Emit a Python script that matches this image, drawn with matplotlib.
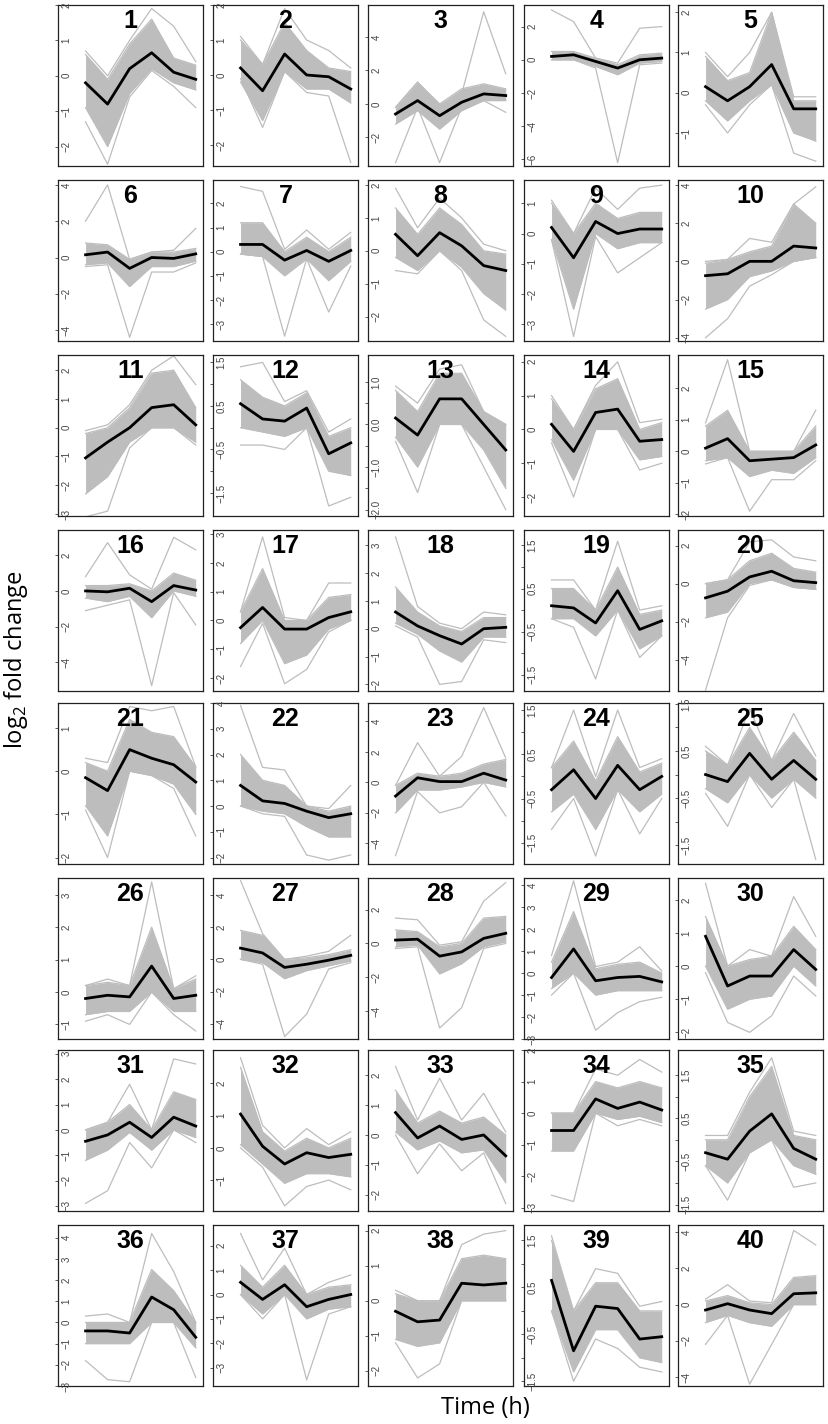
import numpy as np
import matplotlib
matplotlib.use("Agg")
import matplotlib.pyplot as plt
import matplotlib.transforms as mtransforms

plt.rcParams['mathtext.fontset'] = 'custom'
plt.rcParams['mathtext.rm'] = 'Open Sans'

# six sampling points per profile
time_idx = [0, 1, 2, 3, 4, 5]

# cluster mean profiles (black line)
means = [
    [-0.2, -0.8, 0.2, 0.65, 0.1, -0.1],
    [0.2, -0.45, 0.6, 0.0, -0.05, -0.4],
    [-0.6, 0.2, -0.7, 0.1, 0.6, 0.5],
    [0.2, 0.3, -0.1, -0.5, 0.0, 0.1],
    [0.15, -0.2, 0.15, 0.7, -0.4, -0.4],
    [0.15, 0.3, -0.6, 0.0, -0.05, 0.2],
    [0.3, 0.3, -0.35, 0.05, -0.4, 0.05],
    [0.5, -0.15, 0.55, 0.15, -0.45, -0.6],
    [0.2, -0.8, 0.4, 0.0, 0.15, 0.15],
    [-0.75, -0.65, 0.0, 0.0, 0.8, 0.7],
    [-1.05, -0.5, 0.0, 0.7, 0.8, 0.1],
    [0.55, 0.2, 0.15, 0.45, -0.6, -0.35],
    [0.15, -0.25, 0.6, 0.6, 0.0, -0.6],
    [0.15, -0.65, 0.5, 0.6, -0.35, -0.3],
    [0.1, 0.4, -0.3, -0.25, -0.2, 0.2],
    [0.0, -0.05, 0.15, -0.6, 0.3, 0.05],
    [-0.25, 0.45, -0.3, -0.3, 0.1, 0.3],
    [0.6, 0.1, -0.25, -0.55, 0.0, 0.05],
    [0.1, 0.05, -0.3, 0.45, -0.45, -0.25],
    [-0.75, -0.4, 0.35, 0.65, 0.15, 0.05],
    [-0.15, -0.45, 0.5, 0.3, 0.15, -0.25],
    [0.8, 0.2, 0.1, -0.2, -0.45, -0.3],
    [-0.9, 0.3, 0.05, 0.05, 0.6, 0.15],
    [-0.3, 0.15, -0.5, 0.25, -0.3, 0.0],
    [0.0, -0.15, 0.45, -0.1, 0.3, -0.1],
    [-0.2, -0.1, -0.15, 0.8, -0.2, -0.1],
    [0.7, 0.4, -0.5, -0.3, -0.05, 0.25],
    [0.2, 0.25, -0.75, -0.5, 0.3, 0.6],
    [-0.2, 1.1, -0.35, -0.2, -0.15, -0.4],
    [0.9, -0.6, -0.3, -0.3, 0.5, -0.1],
    [-0.45, -0.2, 0.3, -0.3, 0.5, 0.15],
    [1.05, 0.05, -0.5, -0.15, -0.3, -0.2],
    [0.75, -0.1, 0.3, -0.15, 0.0, -0.7],
    [-0.55, -0.55, 0.45, 0.15, 0.35, 0.1],
    [-0.3, -0.45, 0.2, 0.6, -0.2, -0.45],
    [-0.4, -0.4, -0.5, 1.2, 0.6, -0.7],
    [0.5, -0.2, 0.4, -0.5, -0.2, 0.0],
    [-0.3, -0.6, -0.55, 0.5, 0.45, 0.5],
    [0.65, -0.85, 0.1, 0.05, -0.6, -0.55],
    [-0.3, 0.05, -0.3, -0.5, 0.6, 0.65],
]

# dense part of the member profiles (upper / lower edge)
band_hi = [
    [0.6, -0.1, 0.9, 1.6, 0.5, 0.3],
    [1.0, 0.3, 1.5, 0.7, 0.2, 0.1],
    [-0.2, 1.3, 0.0, 0.9, 1.2, 0.9],
    [0.5, 0.5, 0.1, -0.3, 0.3, 0.4],
    [0.9, 0.3, 0.5, 2.0, -0.2, -0.2],
    [0.8, 0.7, -0.1, 0.3, 0.3, 0.5],
    [1.2, 1.2, 0.0, 0.6, 0.0, 0.6],
    [1.3, 0.5, 1.3, 0.8, 0.0, -0.1],
    [1.0, 0.0, 1.0, 0.5, 0.7, 0.7],
    [-0.1, 0.1, 0.5, 0.8, 3.0, 2.0],
    [-0.2, 0.0, 0.7, 1.9, 2.0, 0.7],
    [1.1, 0.7, 0.5, 0.8, -0.2, 0.0],
    [0.8, 0.3, 1.2, 1.2, 0.3, 0.0],
    [0.9, 0.0, 1.2, 1.5, 0.0, 0.2],
    [0.8, 1.3, 0.0, 0.0, 0.0, 0.8],
    [0.3, 0.3, 0.4, 0.0, 1.0, 0.6],
    [0.3, 1.8, 0.0, 0.0, 0.8, 0.9],
    [1.5, 0.6, 0.1, -0.1, 0.4, 0.4],
    [0.5, 0.5, 0.0, 1.0, -0.1, 0.0],
    [0.0, 0.2, 1.2, 1.6, 0.8, 0.6],
    [0.2, 0.0, 1.2, 0.9, 0.8, 0.1],
    [2.0, 1.0, 0.8, 0.0, -0.2, 0.0],
    [-0.2, 0.6, 0.4, 0.6, 1.2, 1.5],
    [0.2, 0.8, -0.1, 0.9, 0.1, 0.3],
    [0.5, 0.2, 1.0, 0.3, 0.9, 0.3],
    [0.2, 0.3, 0.2, 2.0, 0.1, 0.4],
    [1.8, 1.5, 0.0, 0.1, 0.3, 0.6],
    [0.8, 0.7, -0.2, 0.0, 1.5, 1.6],
    [0.5, 2.8, 0.2, 0.4, 0.5, 0.0],
    [1.5, 0.0, 0.2, 0.3, 1.2, 0.5],
    [0.0, 0.3, 1.0, 0.0, 1.5, 1.2],
    [2.5, 0.5, -0.1, 0.3, 0.0, 0.3],
    [1.5, 0.4, 0.8, 0.4, 0.6, 0.0],
    [0.0, 0.0, 1.0, 0.8, 1.0, 0.8],
    [0.0, 0.0, 1.0, 1.7, 0.1, 0.0],
    [0.0, 0.0, 0.0, 2.5, 1.5, 0.0],
    [1.2, 0.3, 1.2, 0.0, 0.3, 0.4],
    [0.2, 0.0, 0.0, 1.2, 1.3, 1.2],
    [1.5, 0.0, 0.6, 0.6, 0.0, 0.0],
    [0.2, 0.5, 0.1, 0.0, 1.5, 1.6],
]

band_lo = [
    [-0.9, -2.0, -0.5, 0.2, -0.2, -0.4],
    [-0.2, -1.3, 0.1, -0.4, -0.4, -0.8],
    [-1.2, -0.4, -1.5, -0.4, 0.2, 0.2],
    [0.0, 0.0, -0.4, -0.9, -0.2, -0.1],
    [-0.2, -0.7, -0.2, 0.2, -1.0, -1.2],
    [-0.4, -0.3, -1.6, -0.5, -0.5, -0.2],
    [-0.1, -0.2, -1.0, -0.3, -1.2, -0.4],
    [-0.2, -0.6, 0.0, -0.5, -1.3, -1.8],
    [-0.2, -2.5, 0.0, -0.5, -0.3, -0.3],
    [-2.5, -2.0, -0.8, -0.5, 0.0, 0.2],
    [-2.3, -1.7, -0.5, 0.0, 0.0, -0.5],
    [0.0, -0.1, -0.2, 0.0, -1.0, -1.1],
    [-0.3, -1.0, 0.0, 0.0, -0.6, -1.5],
    [-0.3, -1.5, 0.0, 0.0, -0.9, -0.8],
    [-0.3, -0.2, -0.8, -0.6, -0.7, -0.2],
    [-0.4, -0.6, -0.3, -1.5, 0.0, -0.3],
    [-0.8, 0.0, -1.5, -1.2, -0.3, 0.0],
    [0.2, -0.2, -0.8, -1.2, -0.3, -0.3],
    [-0.2, -0.2, -0.6, 0.0, -0.9, -0.6],
    [-1.8, -1.5, 0.0, 0.2, -0.2, -0.3],
    [-0.8, -1.5, 0.0, -0.1, -0.3, -1.0],
    [0.0, -0.2, -0.3, -0.8, -1.2, -1.2],
    [-2.0, -0.5, -0.5, -0.3, 0.0, -0.3],
    [-0.8, -0.4, -1.2, -0.3, -0.8, -0.4],
    [-0.3, -0.6, 0.0, -0.5, -0.1, -0.5],
    [-0.7, -0.6, -0.6, 0.0, -0.6, -0.6],
    [0.0, -0.2, -1.2, -0.7, -0.4, -0.1],
    [-0.2, -0.1, -1.8, -1.2, -0.2, 0.1],
    [-0.7, 0.0, -1.0, -0.8, -0.8, -0.8],
    [0.0, -1.3, -1.0, -0.9, 0.0, -0.6],
    [-1.2, -0.8, -0.1, -0.8, 0.0, -0.3],
    [0.1, -0.5, -1.1, -0.8, -0.8, -0.9],
    [0.1, -0.5, -0.2, -0.6, -0.5, -1.6],
    [-1.2, -1.2, 0.0, -0.2, -0.1, -0.3],
    [-0.6, -1.0, -0.3, 0.0, -0.6, -0.8],
    [-1.0, -1.0, -1.0, 0.0, 0.0, -1.2],
    [0.0, -0.8, 0.0, -1.0, -0.6, -0.5],
    [-1.1, -1.3, -1.2, 0.0, 0.0, 0.0],
    [0.0, -1.3, -0.4, -0.4, -1.0, -1.1],
    [-1.0, -0.6, -1.0, -1.2, 0.0, 0.0],
]

# most extreme member profiles
upper = [
    [0.7, 0.0, 1.0, 1.9, 1.4, 0.4],
    [1.1, 0.3, 1.9, 1.0, 0.7, 0.2],
    [-0.2, 1.3, -0.1, 0.6, 5.5, 1.8],
    [3.0, 2.3, 0.1, -0.2, 1.9, 2.0],
    [1.0, 0.4, 1.0, 2.0, -0.1, -0.1],
    [2.0, 4.0, -0.1, 0.3, 0.4, 1.6],
    [2.7, 2.5, 0.1, 0.9, 0.1, 0.8],
    [1.9, 0.7, 1.6, 1.0, 0.2, 0.0],
    [1.1, 0.0, 1.5, 0.8, 1.5, 1.6],
    [0.0, 0.1, 1.2, 1.0, 3.0, 3.9],
    [-0.1, 0.1, 0.8, 2.0, 2.5, 1.5],
    [1.4, 1.5, 0.6, 0.85, -0.1, 0.2],
    [0.9, 0.5, 1.3, 1.4, 0.3, 0.0],
    [1.0, 0.0, 1.3, 2.0, 0.2, 0.3],
    [0.9, 2.9, 0.0, 0.0, 0.0, 1.3],
    [0.8, 2.7, 0.9, 0.1, 3.0, 2.3],
    [0.3, 2.9, 0.1, 0.0, 1.3, 1.3],
    [3.3, 0.8, 0.2, 0.0, 0.6, 0.5],
    [0.7, 0.7, 0.0, 1.6, 0.0, 0.1],
    [0.0, 0.2, 2.2, 2.3, 1.4, 1.2],
    [0.3, 0.2, 1.5, 1.4, 1.5, 0.1],
    [3.9, 1.5, 1.4, 0.0, -0.1, 0.8],
    [-0.2, 2.6, 0.4, 1.7, 4.9, 1.6],
    [0.2, 1.5, 0.0, 1.5, 0.2, 0.4],
    [0.6, 0.2, 1.4, 0.3, 1.3, 0.4],
    [0.2, 0.4, 0.2, 3.4, 0.1, 0.5],
    [4.9, 1.6, 0.0, 0.2, 0.5, 1.5],
    [1.5, 1.4, -0.1, 0.1, 2.5, 3.6],
    [0.8, 4.2, 0.3, 0.5, 1.2, 0.1],
    [2.5, 0.0, 0.5, 0.3, 2.1, 0.9],
    [0.0, 0.3, 1.8, 0.0, 2.8, 2.6],
    [2.8, 0.7, 0.0, 0.6, 0.1, 0.5],
    [2.3, 0.5, 1.9, 0.5, 1.4, 0.1],
    [0.0, 0.0, 1.4, 1.2, 1.7, 1.3],
    [0.1, 0.1, 1.1, 1.9, 0.2, 0.1],
    [0.3, 0.4, 0.0, 4.2, 2.4, 0.0],
    [2.5, 0.6, 1.9, 0.0, 0.5, 0.8],
    [0.3, 0.0, 0.0, 1.6, 1.9, 2.0],
    [1.6, 0.0, 0.9, 0.8, 0.1, 0.2],
    [0.3, 1.1, 0.2, 0.1, 4.1, 3.3],
]

lower = [
    [-1.3, -2.5, -0.6, 0.15, -0.3, -0.9],
    [-0.1, -1.5, 0.1, -0.5, -0.6, -2.5],
    [-3.5, -0.2, -3.5, -0.2, 0.2, -0.5],
    [0.0, 0.0, -0.5, -6.2, -0.3, -0.2],
    [-0.3, -1.0, -0.3, 0.2, -1.5, -1.7],
    [-0.5, -0.4, -4.4, -0.8, -0.8, -0.3],
    [-0.1, -0.2, -3.5, -0.3, -2.5, -0.6],
    [-0.6, -0.7, 0.0, -0.6, -2.1, -2.6],
    [-0.2, -3.4, -0.1, -1.3, -0.8, -0.3],
    [-4.0, -3.0, -1.3, -0.7, 0.0, 0.2],
    [-3.1, -2.9, -0.7, 0.0, 0.0, -0.6],
    [-0.4, -0.4, -0.5, 0.0, -1.8, -1.6],
    [-0.4, -1.6, 0.0, 0.0, -1.0, -2.0],
    [-0.4, -2.0, 0.0, 0.0, -1.2, -1.0],
    [-0.4, -0.2, -1.9, -0.9, -0.9, -0.3],
    [-1.1, -0.8, -0.5, -5.3, -0.1, -1.9],
    [-1.6, -0.1, -2.2, -1.7, -0.4, 0.0],
    [0.1, -0.3, -2.0, -1.9, -0.4, -0.5],
    [-0.2, -0.4, -1.6, 0.0, -1.1, -0.6],
    [-5.6, -1.8, -0.1, 0.2, -0.2, -0.3],
    [-0.9, -2.0, 0.0, -0.1, -0.4, -1.5],
    [0.0, -0.3, -0.4, -1.9, -2.1, -1.9],
    [-4.8, -0.6, -2.0, -1.6, 0.0, -2.2],
    [-1.2, -0.5, -1.8, -0.3, -1.3, -0.5],
    [-0.4, -1.1, 0.0, -0.7, -0.1, -1.8],
    [-0.9, -0.7, -1.0, 0.0, -0.7, -1.2],
    [0.0, -0.3, -4.8, -3.4, -0.6, -0.2],
    [-0.3, -0.2, -5.0, -3.8, -0.3, 0.0],
    [-1.0, 0.0, -2.6, -1.8, -1.3, -1.1],
    [-0.2, -1.7, -2.0, -1.5, -0.3, -0.9],
    [-2.9, -2.4, -0.5, -1.5, 0.0, -0.5],
    [0.0, -0.6, -1.8, -1.2, -1.0, -1.3],
    [0.0, -1.3, -0.3, -1.2, -0.6, -2.3],
    [-2.6, -2.8, 0.0, -0.4, -0.2, -0.4],
    [-0.6, -1.4, -0.3, 0.0, -1.1, -1.0],
    [-1.8, -2.7, -2.8, 0.0, 0.0, -2.6],
    [0.0, -1.0, 0.0, -3.5, -0.8, -0.5],
    [-1.2, -2.2, -1.8, 0.0, 0.0, 0.0],
    [0.0, -1.5, -0.6, -0.8, -1.2, -1.3],
    [-2.2, -0.6, -4.4, -2.2, 0.0, 0.0],
]

# y range of each panel
ylims = [
    (-2.55, 2.0), (-2.6, 2.0), (-3.7, 5.9), (-6.4, 3.3), (-1.82, 2.18),
    (-4.6, 4.27), (-3.7, 2.97), (-2.74, 2.15), (-3.55, 1.77), (-4.17, 4.26),
    (-3.07, 2.53), (-2.03, 1.67), (-2.15, 1.63), (-2.56, 2.2), (-2.05, 3.05),
    (-5.6, 3.41), (-2.45, 3.14), (-2.24, 3.55), (-1.88, 1.86), (-5.65, 2.82),
    (-2.15, 1.58), (-2.25, 4.0), (-5.35, 5.2), (-1.98, 1.66), (-1.9, 1.52),
    (-1.45, 3.52), (-4.95, 5.06), (-5.65, 3.87), (-3.0, 4.33), (-2.2, 2.66),
    (-3.2, 3.15), (-1.96, 3.04), (-2.55, 2.85), (-3.1, 2.0), (-1.65, 2.08),
    (-3.0, 4.6), (-3.75, 2.85), (-2.43, 2.16), (-1.6, 1.83), (-4.5, 4.4),
]

# y tick positions of each panel
yticks = [
    [-2, -1, 0, 1, 2], [-2, -1, 0, 1, 2], [-2, 0, 2, 4], [-6, -4, -2, 0, 2],
    [-1, 0, 1, 2], [-4, -2, 0, 2, 4], [-3, -2, -1, 0, 1, 2], [-2, -1, 0, 1, 2],
    [-3, -2, -1, 0, 1], [-4, -2, 0, 2, 4], [-3, -2, -1, 0, 1, 2],
    [-1.5, -1.0, -0.5, 0.0, 0.5, 1.0, 1.5], [-2.0, -1.5, -1.0, -0.5, 0.0, 0.5, 1.0],
    [-2, -1, 0, 1, 2], [-2, -1, 0, 1, 2], [-4, -2, 0, 2], [-2, -1, 0, 1, 2, 3],
    [-2, -1, 0, 1, 2, 3], [-1.5, -1.0, -0.5, 0.0, 0.5, 1.0, 1.5], [-4, -2, 0, 2],
    [-2, -1, 0, 1], [-2, -1, 0, 1, 2, 3, 4], [-4, -2, 0, 2, 4],
    [-1.5, -1.0, -0.5, 0.0, 0.5, 1.0, 1.5], [-1.5, -1.0, -0.5, 0.0, 0.5, 1.0, 1.5],
    [-1, 0, 1, 2, 3], [-4, -2, 0, 2, 4], [-4, -2, 0, 2], [-3, -2, -1, 0, 1, 2, 3, 4],
    [-2, -1, 0, 1, 2], [-3, -2, -1, 0, 1, 2, 3], [-1, 0, 1, 2], [-2, -1, 0, 1, 2],
    [-3, -2, -1, 0, 1, 2], [-1.5, -1.0, -0.5, 0.0, 0.5, 1.0, 1.5],
    [-3, -2, -1, 0, 1, 2, 3, 4], [-3, -2, -1, 0, 1, 2], [-2, -1, 0, 1, 2],
    [-1.5, -1.0, -0.5, 0.0, 0.5, 1.0, 1.5], [-4, -2, 0, 2, 4],
]

GREY = '#bdbdbd'
W, H = 829, 1424
col_left = [58, 213, 368, 524, 678]
row_top = [5, 180, 355, 530, 703, 878, 1050, 1225]
box_w, box_h = 145, 161

fig = plt.figure(figsize=(W / 100, H / 100), dpi=100)


def tick_label(k, i, t):
    if k == 12:
        return '{:.1f}'.format(t) if i % 2 == 0 else ''
    if t != int(t) or (k in (11, 18, 23, 24, 34, 38)):
        return '{:.1f}'.format(t) if abs(t * 2) % 2 == 1 else ''
    return str(int(t))


for k in range(40):
    r, c = divmod(k, 5)
    ax = fig.add_axes([col_left[c] / W, 1 - (row_top[r] + box_h) / H, box_w / W, box_h / H])
    ax.fill_between(time_idx, band_lo[k], band_hi[k], color=GREY, lw=0)
    for prof in (band_hi[k], band_lo[k], upper[k], lower[k]):
        ax.plot(time_idx, prof, color=GREY, lw=0.9)
    ax.plot(time_idx, means[k], color='black', lw=2.0)
    ax.set_xlim(-1.25, 5.33)
    ax.set_ylim(*ylims[k])
    ax.set_xticks([])
    ticks = yticks[k]
    ax.set_yticks(ticks)
    ax.set_yticklabels([])
    ax.tick_params(axis='y', length=2.5, width=0.6, colors='#444444')
    # tick labels sit inside the box, rotated like R's default
    trans = mtransforms.blended_transform_factory(ax.transAxes, ax.transData)
    for i, t in enumerate(ticks):
        lab = tick_label(k, i, t)
        if lab and ylims[k][0] - 0.05 <= t <= ylims[k][1] + 0.05:
            ax.text(0.06, t, lab.replace('-', '\u2212'), transform=trans, rotation=90,
                    ha='center', va='center', fontsize=7, color='#444444',
                    family='Liberation Sans', clip_on=False)
    for s in ax.spines.values():
        s.set_linewidth(0.9)
        s.set_color('#222222')
    ax.text(0.5, 0.975, str(k + 1), transform=ax.transAxes, ha='center', va='top',
            fontsize=18, fontweight='bold', family='Liberation Sans')

fig.text(485 / W, 1 - 1408 / H, 'Time (h)', ha='center', va='center',
         fontsize=17, family='Open Sans')
fig.text(16 / W, 1 - 660 / H, 'log$_2$ fold change', ha='center', va='center',
         rotation=90, fontsize=17, family='Open Sans')

fig.savefig('out.png', dpi=100)
